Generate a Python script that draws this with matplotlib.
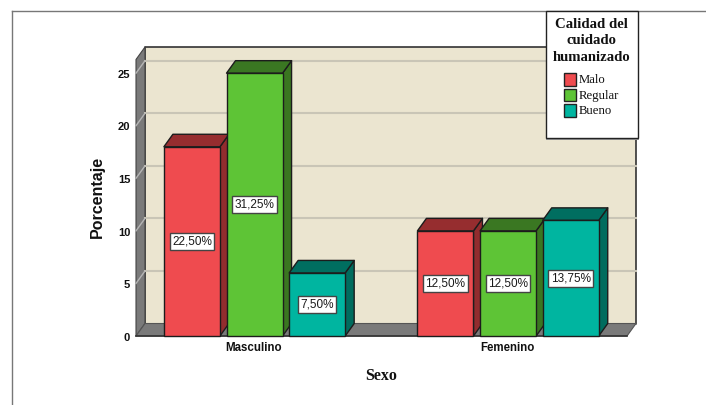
import matplotlib
matplotlib.use("Agg")
import matplotlib.pyplot as plt
from matplotlib.patches import Polygon, Rectangle
from matplotlib.lines import Line2D

categories = ["Masculino", "Femenino"]
levels = ["Malo", "Regular", "Bueno"]
percent = {
    "Malo": [22.50, 12.50],
    "Regular": [31.25, 12.50],
    "Bueno": [7.50, 13.75],
}
sample_size = 80
y_ticks = [0, 5, 10, 15, 20, 25]

front = {"Malo": "#EF4B4F", "Regular": "#5EC436", "Bueno": "#00B5A0"}
top = {"Malo": "#962D2F", "Regular": "#3A7722", "Bueno": "#006E60"}
side = {"Malo": "#922C2E", "Regular": "#3A7620", "Bueno": "#006C5E"}

W, H = 706, 405
fig = plt.figure(figsize=(W / 100, H / 100), dpi=100, facecolor="white")

# Axes span the front plane of the pseudo-3D chart box
x0, x1, y0, y1 = 136.0, 627.0, 336.0, 59.5
ax = fig.add_axes([x0 / W, 1 - y0 / H, (x1 - x0) / W, (y0 - y1) / H])
ax.set_xlim(-0.4675, 1.469)
ax.set_ylim(0, 26.3)
ax.axis("off")

DX = 9 / 253.5      # box depth along x, data units
DY = 12.5 / 10.52   # box depth along y, data units
BAR_W = 0.221
STEP = 0.247
xl, xr = ax.get_xlim()
yb, yt = ax.get_ylim()
EDGE = "#1c1c1c"


def poly(points, face, edge=EDGE, lw=1.0, z=1):
    ax.add_patch(Polygon(points, closed=True, facecolor=face, edgecolor=edge,
                         linewidth=lw, zorder=z, clip_on=False, joinstyle="round"))


# Back wall, side wall and floor
poly([(xl + DX, yb + DY), (xr + DX, yb + DY), (xr + DX, yt + DY), (xl + DX, yt + DY)],
     "#EBE5D0", edge="#333333", lw=1.2)
poly([(xl, yb), (xl + DX, yb + DY), (xl + DX, yt + DY), (xl, yt)], "#7A7A7A", edge="#444444", lw=0.8)
poly([(xl, yb), (xl + DX, yb + DY), (xr + DX, yb + DY), (xr, yb)], "#7A7A7A", edge="#555555", lw=0.8)

# Gridlines on the wall, with a slanted run over the side wall
for t in y_ticks[1:]:
    ax.plot([xl + DX, xr + DX], [t + DY, t + DY], color="#C9C5B6", lw=1.5, zorder=2, clip_on=False)
    ax.plot([xl, xl + DX], [t, t + DY], color="#B5B5B5", lw=1.0, zorder=2, clip_on=False)
ax.plot([xl, xr], [0, 0], color="#333333", lw=1.2, zorder=2, clip_on=False)

# Bars: height is the case count behind each percentage
for i, level in enumerate(levels):
    for c, pct in enumerate(percent[level]):
        h = pct * sample_size / 100
        left = c + (i - 1) * STEP - BAR_W / 2
        right = left + BAR_W
        z = 3 + c * 3 + i * 3
        poly([(right, 0), (right + DX, DY), (right + DX, h + DY), (right, h)], side[level], z=z)
        poly([(left, h), (left + DX, h + DY), (right + DX, h + DY), (right, h)], top[level], z=z)
        ax.bar(left + BAR_W / 2, h, width=BAR_W, color=front[level], edgecolor=EDGE,
               linewidth=1.0, zorder=z + 1, clip_on=False)
        ax.text(left + BAR_W / 2, h / 2, f"{pct:.2f}%".replace(".", ","), ha="center", va="center",
                fontsize=8.5, family="Liberation Sans", color="#1a1a1a", zorder=30,
                bbox=dict(boxstyle="square,pad=0.2", facecolor="white", edgecolor="#444444", linewidth=1.0))

# Tick labels
for t in y_ticks:
    ax.annotate(str(t), (xl, t), xytext=(-4.2, -1.2), textcoords="offset points", ha="right", va="center",
                fontsize=8, fontweight="bold", family="Liberation Sans", color="#111111")
for c, name in enumerate(categories):
    ax.annotate(name, (c, 0), xytext=(-0.5, -4), textcoords="offset points", ha="center", va="top",
                fontsize=8.3, fontweight="bold", family="Liberation Sans", color="#111111")


def fx(px):
    return px / W


def fy(py):
    return 1 - py / H


fig.text(fx(97), fy(197), "Porcentaje", rotation=90, ha="center", va="center",
         fontsize=11.5, fontweight="bold", family="Liberation Sans", color="#111111")
fig.text(fx(381), fy(376), "Sexo", ha="center", va="center",
         fontsize=11.5, fontweight="bold", family="Liberation Serif", color="#111111")

# Outer chart frame
fig.add_artist(Line2D([fx(12), fx(12)], [fy(405), fy(10.5)], color="#777777", lw=1.0))
fig.add_artist(Line2D([fx(12), fx(706)], [fy(10.5), fy(10.5)], color="#777777", lw=1.0))

# Legend box
fig.add_artist(Rectangle((fx(546), fy(139.5)), 92.5 / W, 128 / H, transform=fig.transFigure,
                         facecolor="#9a9a9a", edgecolor="none", zorder=40))
fig.add_artist(Rectangle((fx(545.5), fy(138)), 92.5 / W, 127 / H, transform=fig.transFigure,
                         facecolor="white", edgecolor="#222222", linewidth=1.0, zorder=41))
for text, py in zip(["Calidad del", "cuidado", "humanizado"], [25, 41, 57.5]):
    fig.text(fx(591.5), fy(py), text, ha="center", va="center", fontsize=10.6, fontweight="bold",
             family="Liberation Serif", color="#111111", zorder=42)
for level, py in zip(levels, [79.5, 95, 110.5]):
    fig.add_artist(Rectangle((fx(563.5), fy(py + 6)), 12 / W, 12 / H, transform=fig.transFigure,
                             facecolor=front[level], edgecolor="#222222", linewidth=1.0, zorder=42))
    fig.text(fx(578.5), fy(py + 0.5), level, ha="left", va="center", fontsize=9.2,
             family="Liberation Serif", color="#111111", zorder=42)

fig.savefig("out.png", dpi=100, facecolor="white")
